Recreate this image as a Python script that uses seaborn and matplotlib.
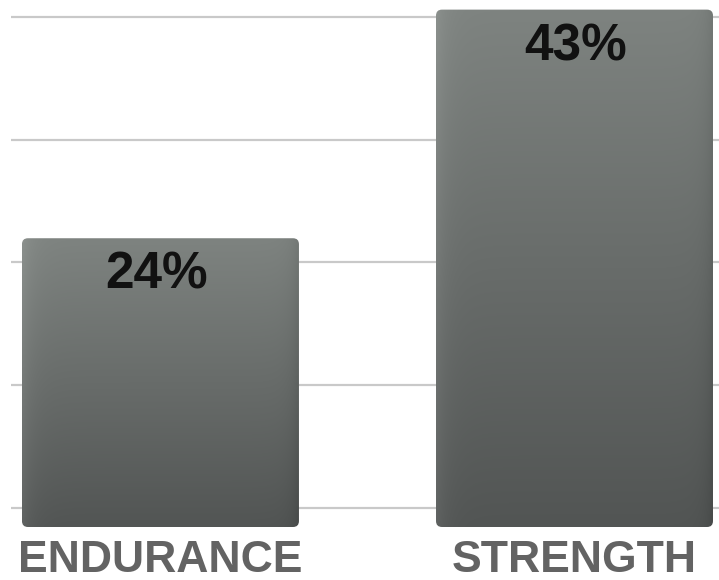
import numpy as np
import pandas as pd
import seaborn as sns
import matplotlib
matplotlib.use("Agg")
import matplotlib.pyplot as plt
from matplotlib.patches import FancyBboxPatch

categories = ["ENDURANCE", "STRENGTH"]
values = [24, 43]
value_labels = ["24%", "43%"]
grid_levels = [1.6, 11.8, 22.0, 32.2, 42.4]

sns.set_theme(style="white")
plt.rcParams['font.family'] = ['Liberation Sans Narrow', 'Liberation Sans', 'DejaVu Sans']

df = pd.DataFrame({"cat": categories, "val": values})

fig = plt.figure(figsize=(7.19, 5.80), dpi=100)
ax = fig.add_axes([11 / 719, 53 / 580, 708 / 719, 527 / 580])

for g in grid_levels:
    ax.axhline(g, color="#c9c9c9", lw=1.6, zorder=0)

sns.barplot(data=df, x="cat", y="val", ax=ax, width=0.669, color="#6a6e6c",
            saturation=1, zorder=2)

ax.set_xlim(-0.361, 1.349)
ax.set_ylim(0, 43.8)

# gradient fill with rounded corners
h, w = 200, 100
ty = np.linspace(0, 1, h)[:, None]
tx = np.linspace(0, 1, w)[None, :]
top = np.array([0x7e, 0x83, 0x80]) / 255
bot = np.array([0x52, 0x55, 0x54]) / 255
base = top[None, None, :] * (1 - ty[..., None]) + bot[None, None, :] * ty[..., None]
edge = 0.05 * np.exp(-tx / 0.04) - 0.04 * np.exp(-(1 - tx) / 0.03)
img = np.clip(base + edge[..., None], 0, 1)

rx = 6 / 414
ry = 6 / 12.03
for p in list(ax.patches):
    x0, y0 = p.get_x(), p.get_y()
    pw, ph = p.get_width(), p.get_height()
    p.set_visible(False)
    clip = FancyBboxPatch((x0, y0), pw, ph,
                          boxstyle=f"round,pad=0,rounding_size={rx}",
                          mutation_aspect=ry / rx, facecolor="none",
                          edgecolor="none", transform=ax.transData)
    ax.add_patch(clip)
    im = ax.imshow(img, extent=(x0, x0 + pw, y0, y0 + ph), aspect="auto",
                   zorder=3, interpolation="bilinear")
    im.set_clip_path(clip)

ax.set_xlim(-0.361, 1.349)
ax.set_ylim(0, 43.8)

for i, (v, lab) in enumerate(zip(values, value_labels)):
    ax.annotate(lab, (i, v), xytext=(-3 if i == 0 else 1, -9),
                textcoords="offset points", ha="center", va="top",
                fontsize=37, fontweight="bold", color="#111111", zorder=5)

ax.set_xlabel("")
ax.set_ylabel("")
ax.set_yticks([])
ax.set_xticks(range(len(categories)))
ax.set_xticklabels(categories, fontsize=32, fontweight="bold", color="#636363")
ax.tick_params(axis="x", length=0, pad=9)
for s in ax.spines.values():
    s.set_visible(False)

fig.savefig("out.png", dpi=100)
